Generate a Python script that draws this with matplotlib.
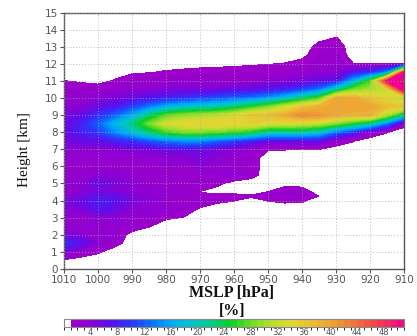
import numpy as np
import matplotlib
matplotlib.use("Agg")
import matplotlib.pyplot as plt
from matplotlib.colors import ListedColormap, BoundaryNorm, LinearSegmentedColormap
import matplotlib.cm as cm

# ---------------- data ----------------
mslp_hpa = [1010, 1005, 1000, 995, 990, 985, 980, 975, 970, 965, 960,
            955, 950, 945, 940, 935, 930, 925, 920, 915, 910]
height_km = [0, 0.5, 1, 1.5, 2, 2.5, 3, 3.5, 4, 4.25, 4.5, 5, 5.5, 6, 6.5,
             7, 7.5, 8, 8.5, 9, 9.5, 10, 10.5, 11, 11.5, 12, 12.5, 13, 13.5, 14, 15]

# percentage profiles, one list per MSLP bin (bottom -> top, on height_km)
pct_1010 = [0, 0.5, 5, 9, 5, 3, 3, 4, 5, 4, 3, 3, 3, 3, 3, 4, 5, 6, 6, 5, 4, 3, 2.5, 1.05, 0, 0, 0, 0, 0, 0, 0]
pct_1005 = [0, 0, 2.5, 7, 4, 3, 3, 5, 6, 5, 4, 4, 3, 3, 3, 4, 6, 8, 8, 6, 4, 3, 2.5, 0.6, 0, 0, 0, 0, 0, 0, 0]
pct_1000 = [0, 0, 1.25, 4, 4, 3, 4, 7, 8, 7, 5, 6, 4, 3, 3, 4, 6, 10, 12, 9, 6, 4, 2.5, 0, 0, 0, 0, 0, 0, 0, 0]
pct_995 = [0, 0, 0, 1.67, 3, 3, 4, 6, 7, 6, 5, 5, 4, 3, 3, 4, 8, 14, 17, 12, 7, 5, 3, 1.25, 0, 0, 0, 0, 0, 0, 0]
pct_990 = [0, 0, 0, 0, 0, 2.5, 3, 4, 5, 5, 4, 4, 3, 3, 3, 5, 9, 18, 22, 16, 10, 6, 3.5, 2, 0.75, 0, 0, 0, 0, 0, 0]
pct_985 = [0, 0, 0, 0, 0, 1.1, 3, 4, 4, 4, 4, 3, 3, 3, 3, 5, 11, 22, 28, 22, 13, 7, 4, 2.5, 0.9, 0, 0, 0, 0, 0, 0]
pct_980 = [0, 0, 0, 0, 0, 0, 1.25, 3, 3, 3, 3, 3, 3, 3, 4, 6, 13, 26, 33, 27, 16, 8, 4.5, 2.5, 1.2, 0.2, 0, 0, 0, 0, 0]
pct_975 = [0, 0, 0, 0, 0, 0, 0.9, 3, 3, 3, 3, 3, 3, 3, 4, 6, 14, 28, 34, 29, 18, 9, 5, 3, 1.4, 0.3, 0, 0, 0, 0, 0]
pct_970 = [0, 0, 0, 0, 0, 0, 0, 0.5, 3, 2, 0.8, 3, 3, 4, 5, 6, 14, 28, 35, 30, 19, 10, 5, 3, 1.6, 0.4, 0, 0, 0, 0, 0]
pct_965 = [0, 0, 0, 0, 0, 0, 0, 0, 1.43, 2, 0, 1.5, 3, 3, 4, 5, 12, 27, 35, 31, 20, 11, 5, 3, 1.7, 0.5, 0, 0, 0, 0, 0]
pct_960 = [0, 0, 0, 0, 0, 0, 0, 0, 1.05, 2, 0, 0, 3.3, 3, 3, 4, 10, 26, 35, 33, 22, 12, 6, 3, 1.8, 0.6, 0, 0, 0, 0, 0]
pct_955 = [0, 0, 0, 0, 0, 0, 0, 0, 0, 1.3, 0, 0, 1.67, 2, 2, 3, 8, 24, 35, 36, 25, 13, 6, 3, 2, 0.75, 0, 0, 0, 0, 0]
pct_950 = [0, 0, 0, 0, 0, 0, 0, 0, 1.05, 2, 1.0, 0, 0, 0, 0, 1.1, 6, 20, 33, 37, 28, 15, 7, 4, 2, 0.9, 0, 0, 0, 0, 0]
pct_945 = [0, 0, 0, 0, 0, 0, 0, 0, 1.35, 2.5, 2.5, 0, 0, 0, 0, 1.05, 6, 20, 33, 39, 32, 18, 8, 4, 2, 1.1, 0, 0, 0, 0, 0]
pct_940 = [0, 0, 0, 0, 0, 0, 0, 0, 1.25, 2.5, 2.2, 0, 0, 0, 0, 1.02, 6, 20, 32, 42, 36, 22, 10, 5, 3, 1.6, 0.5, 0, 0, 0, 0]
pct_935 = [0, 0, 0, 0, 0, 0, 0, 0, 0, 0.9, 0, 0, 0, 0, 0, 0.9, 6, 18, 31, 41, 38, 26, 13, 6, 3.5, 2.5, 2, 1.6, 0.5, 0, 0]
pct_930 = [0, 0, 0, 0, 0, 0, 0, 0, 0, 0, 0, 0, 0, 0, 0, 0, 2.5, 12, 28, 39, 40, 39, 20, 7, 4, 3, 2.5, 2, 1.1, 0, 0]
pct_925 = [0, 0, 0, 0, 0, 0, 0, 0, 0, 0, 0, 0, 0, 0, 0, 0, 1.1, 8, 24, 38, 40, 39, 28, 16, 7, 1.05, 0, 0, 0, 0, 0]
pct_920 = [0, 0, 0, 0, 0, 0, 0, 0, 0, 0, 0, 0, 0, 0, 0, 0, 0, 2.5, 20, 38, 40, 36, 30, 26, 9, 1.05, 0, 0, 0, 0, 0]
pct_915 = [0, 0, 0, 0, 0, 0, 0, 0, 0, 0, 0, 0, 0, 0, 0, 0, 0, 1.05, 12, 30, 37, 34, 32, 50, 14, 1.05, 0, 0, 0, 0, 0]
pct_910 = [0, 0, 0, 0, 0, 0, 0, 0, 0, 0, 0, 0, 0, 0, 0, 0, 0, 0, 1.67, 20, 36, 30, 52, 55, 50, 1.05, 0, 0, 0, 0, 0]

pct_columns = [pct_1010, pct_1005, pct_1000, pct_995, pct_990, pct_985, pct_980,
               pct_975, pct_970, pct_965, pct_960, pct_955, pct_950, pct_945,
               pct_940, pct_935, pct_930, pct_925, pct_920, pct_915, pct_910]

x_ticks = [1010, 1000, 990, 980, 970, 960, 950, 940, 930, 920, 910]
y_ticks = list(range(0, 16))
cbar_ticks = [4, 8, 12, 16, 20, 24, 28, 32, 36, 40, 44, 48]
cbar_bounds = list(range(0, 52))

# ---------------- colours ----------------
anchor_vals = [1, 4, 7, 10, 13, 16, 19, 22, 25, 28, 31, 34, 37, 40, 43, 46, 49, 51]
anchor_cols = ["#a000c8", "#8a00d4", "#5a10ec", "#2a38ff", "#0a70ff", "#00a8f4",
               "#00c4cc", "#00cc8c", "#08d020", "#6cdc28", "#b4e030", "#e0d834",
               "#e8c034", "#f0a434", "#f07c34", "#f05040", "#f02864", "#f00090"]
smooth = LinearSegmentedColormap.from_list(
    "ncl_like",
    [((v - 1) / 50.0, c) for v, c in zip(anchor_vals, anchor_cols)])
bin_cols = ["#ffffff"] + [smooth((k + 0.5) / 50.0) for k in range(50)]
cmap = ListedColormap(bin_cols)
cmap.set_over("#f00090")
norm = BoundaryNorm(cbar_bounds, cmap.N)

# ---------------- figure ----------------
fig = plt.figure(figsize=(4.17, 3.36), dpi=100)
ax = fig.add_axes([0.1535, 0.200, 0.8153, 0.762])

Z = np.array(pct_columns, dtype=float).T
cs = ax.contourf(mslp_hpa, height_km, Z, levels=cbar_bounds[1:], cmap=cmap,
                 norm=norm, extend="max")
cs.set_edgecolor("face")
cs.set_linewidth(0.4)

ax.set_xlim(1010, 910)
ax.set_ylim(0, 15)
ax.set_xticks(x_ticks)
ax.set_yticks(y_ticks)
ax.set_axisbelow(False)
ax.grid(True, linestyle=(0, (1, 2.5)), color="#a8a8a8", linewidth=0.6)
ax.tick_params(direction="out", length=3, width=0.8, colors="#555555",
               labelsize=7.5, pad=1.5)
for s in ax.spines.values():
    s.set_color("#555555")
    s.set_linewidth(1.0)

fig.text(0.058, 0.555, "Height [km]", rotation=90, ha="center", va="center",
         fontsize=11, family="Liberation Serif", color="#111111")
fig.text(0.556, 0.127, "MSLP [hPa]", ha="center", va="center",
         fontsize=11.5, family="Liberation Serif", fontweight="bold", color="#111111")
fig.text(0.556, 0.074, "[%]", ha="center", va="center",
         fontsize=11.5, family="Liberation Serif", fontweight="bold", color="#111111")

# ---------------- colorbar ----------------
cax = fig.add_axes([0.1535, 0.0268, 0.8153, 0.0238])
sm = cm.ScalarMappable(norm=norm, cmap=cmap)
cb = fig.colorbar(sm, cax=cax, orientation="horizontal", boundaries=cbar_bounds,
                  ticks=cbar_ticks, extend="neither")
cb.outline.set_edgecolor("#888888")
cb.outline.set_linewidth(0.8)
cax.tick_params(length=0, labelsize=6, colors="#555555", pad=0.5)

fig.savefig("out.png", dpi=100)
